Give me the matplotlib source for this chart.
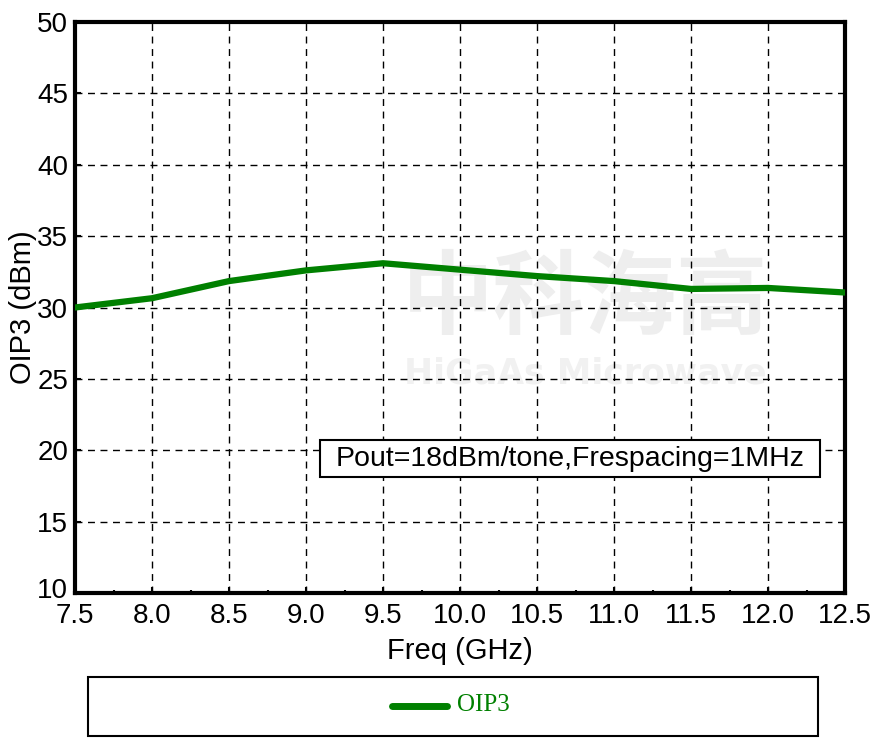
import matplotlib
matplotlib.use("Agg")
import matplotlib.pyplot as plt
import matplotlib.transforms as mtransforms
from matplotlib.patches import Rectangle
from matplotlib.lines import Line2D
from matplotlib.ticker import MultipleLocator

# OIP3 vs frequency
freq_ghz = [7.5, 8.0, 8.5, 9.0, 9.5, 10.0, 10.5, 11.0, 11.5, 12.0, 12.5]
oip3_dbm = [30.0, 30.65, 31.85, 32.6, 33.1, 32.65, 32.2, 31.85, 31.3, 31.37, 31.05]

x_ticks = [7.5, 8.0, 8.5, 9.0, 9.5, 10.0, 10.5, 11.0, 11.5, 12.0, 12.5]
y_ticks = [10, 15, 20, 25, 30, 35, 40, 45, 50]
note = "Pout=18dBm/tone,Frespacing=1MHz"
legend_label = "OIP3"

plt.rcParams["font.family"] = ["Liberation Sans", "DejaVu Sans"]

W, H = 876, 744
fig = plt.figure(figsize=(W / 100, H / 100), dpi=100)
ax = fig.add_axes([75 / W, 1 - 593 / H, 770 / W, 571 / H])
ax.set_zorder(2)
ax.patch.set_alpha(0)

# faint watermark behind the plot
fig.text(585 / W, 1 - 300 / H, "中科海高", fontsize=66, color="#eeeeee",
         family=["Noto Sans CJK SC", "DejaVu Sans"], weight="bold",
         ha="center", va="center", zorder=0)
fig.text(585 / W, 1 - 374 / H, "HiGaAs Microwave", fontsize=25, color="#f1f1f1",
         family="DejaVu Sans", weight="bold", ha="center", va="center", zorder=0)

ax.plot(freq_ghz, oip3_dbm, color="#008000", lw=4.5, solid_joinstyle="round", zorder=3)

ax.set_xlim(7.5, 12.5)
ax.set_ylim(10, 50)
ax.set_xticks(x_ticks)
ax.set_xticklabels([f"{v:.1f}" for v in x_ticks])
ax.set_yticks(y_ticks)
ax.xaxis.set_minor_locator(MultipleLocator(0.25))
ax.tick_params(which="both", direction="in", labelsize=20)
ax.tick_params(axis="x", pad=7)
ax.tick_params(axis="y", pad=5)
ax.tick_params(which="major", length=4, width=1.5)
ax.tick_params(which="minor", length=2, width=1.5)
ax.grid(True, which="major", color="black", linestyle=(0, (5, 4)), lw=1)
for s in ax.spines.values():
    s.set_linewidth(3)

# lift the bottom y label a little so it clears the first x label
lift = mtransforms.ScaledTranslation(0, 5 / 100, fig.dpi_scale_trans)
first_y = ax.get_yticklabels()[0]
first_y.set_transform(first_y.get_transform() + lift)

ax.set_xlabel("Freq (GHz)", fontsize=21, labelpad=6)
ax.set_ylabel("OIP3 (dBm)", fontsize=21, labelpad=0)

# annotation box with the test conditions
ax.add_patch(Rectangle((320 / W, 1 - 477 / H), 500 / W, 37 / H,
                       transform=fig.transFigure, fc="white", ec="black",
                       lw=1.5, zorder=4))
ax.text(570 / W, 1 - 459 / H, note, transform=fig.transFigure, fontsize=20.5,
        ha="center", va="center", zorder=5)

# legend box below the axes
fig.patches.append(Rectangle((88 / W, 1 - 736 / H), 730 / W, 59 / H,
                             transform=fig.transFigure, fill=False,
                             ec="black", lw=1.5))
fig.lines.append(Line2D([392 / W, 447 / W], [1 - 706 / H, 1 - 706 / H],
                        transform=fig.transFigure, color="#008000", lw=5,
                        solid_capstyle="round"))
fig.text(457 / W, 1 - 705 / H, legend_label, fontsize=18, color="#008000",
         family="Liberation Serif", ha="left", va="center")

fig.savefig("out.png", dpi=100)
